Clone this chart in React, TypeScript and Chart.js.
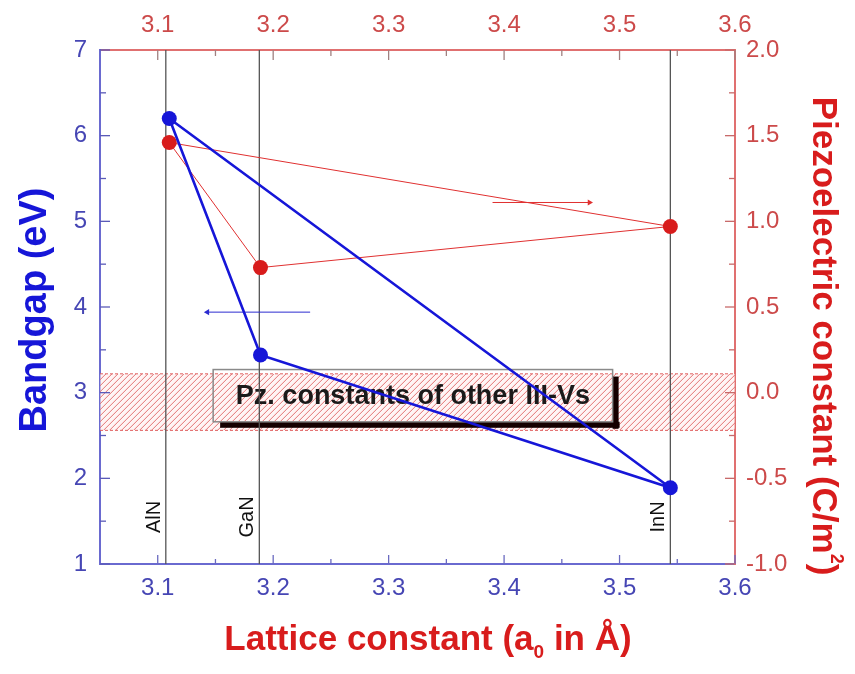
import React, { useEffect, useRef } from "react";
import { Chart, registerables } from "chart.js";

Chart.register(...registerables);

// ---------- data ----------
const compounds = ["AlN", "GaN", "InN"];
const latticeConstants = [3.11, 3.189, 3.544];
const bandgapValues = [6.2, 3.44, 1.89];
const piezoValues = [1.46, 0.73, 0.97];
const triangleOrder = [0, 1, 2, 0];
const markerLines = [3.107, 3.188, 3.544];
const compoundLabelY = 1.55;

const xTickValues = [3.1, 3.2, 3.3, 3.4, 3.5, 3.6];
const xMinorValues = [3.15, 3.25, 3.35, 3.45, 3.55];
const bandgapTicks = [1, 2, 3, 4, 5, 6, 7];
const bandgapMinor = [1.5, 2.5, 3.5, 4.5, 5.5, 6.5];
const piezoTicks = [-1.0, -0.5, 0.0, 0.5, 1.0, 1.5, 2.0];
const piezoMinor = [-0.75, -0.25, 0.25, 0.75, 1.25, 1.75];

const otherIIIVRange = [-0.22, 0.11];
const bandgapArrowX = [3.232, 3.143];
const bandgapArrowY = [3.94, 3.94];
const piezoArrowX = [3.39, 3.474];
const piezoArrowY = [1.11, 1.11];
const noteText = "Pz. constants of other III-Vs";
const noteBoxX = [3.148, 3.494];
const noteBoxY = [3.27, 2.66];

// ---------- styles ----------
const BLUE = "#1616d8";
const RED = "#d81c1c";
const BLUE_TXT = "#4646b4";
const RED_TXT = "#cc4a4a";
const FONT = '"Liberation Sans", Arial, Helvetica, sans-serif';

const pts = (xs: number[], ys: number[], order: number[]) =>
  order.map((i) => ({ x: xs[i], y: ys[i] }));

const decorPlugin = {
  id: "decor",
  beforeDatasetsDraw(chart: any) {
    const { ctx, chartArea: ca, scales } = chart;
    const x = scales.x;
    const y = scales.y;
    const y2 = scales.y2;
    // hatched band
    const top = y2.getPixelForValue(otherIIIVRange[1]);
    const bot = y2.getPixelForValue(otherIIIVRange[0]);
    ctx.save();
    ctx.beginPath();
    ctx.rect(ca.left, top, ca.right - ca.left, bot - top);
    ctx.clip();
    ctx.fillStyle = "rgba(255,238,238,0.6)";
    ctx.fillRect(ca.left, top, ca.right - ca.left, bot - top);
    ctx.strokeStyle = "#e27272";
    ctx.lineWidth = 1;
    const h = bot - top;
    for (let px = ca.left - h; px < ca.right + h; px += 6) {
      ctx.beginPath();
      ctx.moveTo(px, bot);
      ctx.lineTo(px + h, top);
      ctx.stroke();
    }
    ctx.restore();
    ctx.save();
    ctx.strokeStyle = "#e06060";
    ctx.setLineDash([3, 2]);
    ctx.lineWidth = 1;
    ctx.beginPath();
    ctx.moveTo(ca.left, top);
    ctx.lineTo(ca.right, top);
    ctx.moveTo(ca.left, bot);
    ctx.lineTo(ca.right, bot);
    ctx.stroke();
    ctx.restore();

    // note box
    const bx0 = x.getPixelForValue(noteBoxX[0]);
    const bx1 = x.getPixelForValue(noteBoxX[1]);
    const by0 = y.getPixelForValue(noteBoxY[0]);
    const by1 = y.getPixelForValue(noteBoxY[1]);
    ctx.save();
    ctx.fillStyle = "#140000";
    ctx.fillRect(bx1, by0 + 7, 6, by1 - by0);
    ctx.fillRect(bx0 + 7, by1, bx1 - bx0, 6);
    ctx.strokeStyle = "#8a8a8a";
    ctx.lineWidth = 1.5;
    ctx.strokeRect(bx0, by0, bx1 - bx0, by1 - by0);
    ctx.fillStyle = "#1a1a1a";
    ctx.font = `bold 27px ${FONT}`;
    ctx.textAlign = "center";
    ctx.textBaseline = "middle";
    ctx.fillText(noteText, (bx0 + bx1) / 2, (by0 + by1) / 2 + 1);
    ctx.restore();

    // compound labels
    ctx.save();
    ctx.fillStyle = "#111";
    ctx.font = `20px ${FONT}`;
    markerLines.forEach((m, i) => {
      const px = x.getPixelForValue(m);
      const py = y.getPixelForValue(compoundLabelY);
      ctx.save();
      ctx.translate(px - 6, py);
      ctx.rotate(-Math.PI / 2);
      ctx.textAlign = "center";
      ctx.textBaseline = "alphabetic";
      ctx.fillText(compounds[i], 0, 0);
      ctx.restore();
    });
    ctx.restore();
  },
  afterDraw(chart: any) {
    const { ctx, chartArea: ca, scales } = chart;
    // inward ticks
    const tick = (
      scale: any,
      vals: number[],
      len: number,
      color: string,
      side: string
    ) => {
      ctx.save();
      ctx.strokeStyle = color;
      ctx.lineWidth = 1.3;
      vals.forEach((v) => {
        const p = scale.getPixelForValue(v);
        ctx.beginPath();
        if (side === "bottom") {
          ctx.moveTo(p, ca.bottom);
          ctx.lineTo(p, ca.bottom - len);
        } else if (side === "top") {
          ctx.moveTo(p, ca.top);
          ctx.lineTo(p, ca.top + len);
        } else if (side === "left") {
          ctx.moveTo(ca.left, p);
          ctx.lineTo(ca.left + len, p);
        } else {
          ctx.moveTo(ca.right, p);
          ctx.lineTo(ca.right - len, p);
        }
        ctx.stroke();
      });
      ctx.restore();
    };
    tick(scales.x, xTickValues, 9, "#6a6ac0", "bottom");
    tick(scales.x, xMinorValues, 5, "#6a6ac0", "bottom");
    tick(scales.x2, xTickValues, 10, "#a08080", "top");
    tick(scales.x2, xMinorValues, 6, "#a08080", "top");
    tick(scales.y, bandgapTicks, 10, "#5a5ab8", "left");
    tick(scales.y, bandgapMinor, 6, "#5a5ab8", "left");
    tick(scales.y2, piezoTicks, 10, "#c86a6a", "right");
    tick(scales.y2, piezoMinor, 6, "#c86a6a", "right");

    // axis titles
    const drawPieces = (
      pieces: { t: string; size: number; dy: number }[],
      cx: number,
      cy: number,
      rot: number,
      color: string
    ) => {
      ctx.save();
      ctx.fillStyle = color;
      ctx.translate(cx, cy);
      ctx.rotate(rot);
      ctx.textBaseline = "middle";
      ctx.textAlign = "left";
      let total = 0;
      pieces.forEach((p) => {
        ctx.font = `bold ${p.size}px ${FONT}`;
        total += ctx.measureText(p.t).width;
      });
      let cur = -total / 2;
      pieces.forEach((p) => {
        ctx.font = `bold ${p.size}px ${FONT}`;
        ctx.fillText(p.t, cur, p.dy);
        cur += ctx.measureText(p.t).width;
      });
      ctx.restore();
    };
    drawPieces([{ t: "Bandgap (eV)", size: 38, dy: 0 }], 36, 310, -Math.PI / 2, BLUE);
    drawPieces(
      [
        { t: "Lattice constant (a", size: 35, dy: 0 },
        { t: "0", size: 19, dy: 13 },
        { t: " in Å)", size: 35, dy: 0 },
      ],
      428,
      640,
      0,
      RED
    );
    drawPieces(
      [
        { t: "Piezoelectric constant (C/m", size: 35, dy: 0 },
        { t: "2", size: 18, dy: -13 },
        { t: ")", size: 35, dy: 0 },
      ],
      823,
      336,
      Math.PI / 2,
      RED
    );
  },
};

export default function App() {
  const ref = useRef<HTMLCanvasElement | null>(null);
  useEffect(() => {
    if (!ref.current) return;
    const fixTicks = (vals: number[]) => (scale: any) => {
      scale.ticks = vals.map((v) => ({ value: v }));
    };
    const chart = new Chart(ref.current, {
      type: "scatter",
      data: {
        datasets: [
          {
            label: "Bandgap",
            data: pts(latticeConstants, bandgapValues, triangleOrder),
            showLine: true,
            borderColor: BLUE,
            backgroundColor: BLUE,
            borderWidth: 2.6,
            pointRadius: [7.5, 7.5, 7.5, 0],
            pointBorderWidth: 0,
            xAxisID: "x",
            yAxisID: "y",
            order: 1,
          },
          {
            label: "Piezoelectric",
            data: pts(latticeConstants, piezoValues, triangleOrder),
            showLine: true,
            borderColor: "#e03030",
            backgroundColor: RED,
            borderWidth: 1,
            pointRadius: [7.5, 7.5, 7.5, 0],
            pointBorderWidth: 0,
            xAxisID: "x",
            yAxisID: "y2",
            order: 2,
          },
          ...markerLines.map((m) => ({
            label: "marker",
            data: [
              { x: m, y: bandgapTicks[0] },
              { x: m, y: bandgapTicks[bandgapTicks.length - 1] },
            ],
            showLine: true,
            borderColor: "#555",
            borderWidth: 1.3,
            pointRadius: 0,
            xAxisID: "x",
            yAxisID: "y",
            order: 5,
          })),
          {
            label: "arrowBlue",
            data: bandgapArrowX.map((v, i) => ({ x: v, y: bandgapArrowY[i] })),
            showLine: true,
            borderColor: "#2b2bd0",
            backgroundColor: "#2b2bd0",
            borderWidth: 1,
            pointStyle: "triangle",
            rotation: -90,
            pointRadius: [0, 3.5],
            pointBorderWidth: 0,
            xAxisID: "x",
            yAxisID: "y",
            order: 3,
          },
          {
            label: "arrowRed",
            data: piezoArrowX.map((v, i) => ({ x: v, y: piezoArrowY[i] })),
            showLine: true,
            borderColor: "#e03030",
            backgroundColor: "#e03030",
            borderWidth: 1,
            pointStyle: "triangle",
            rotation: 90,
            pointRadius: [0, 3.5],
            pointBorderWidth: 0,
            xAxisID: "x",
            yAxisID: "y2",
            order: 3,
          },
        ],
      },
      options: {
        responsive: false,
        animation: false,
        events: [],
        layout: { padding: 0 },
        plugins: {
          legend: { display: false },
          tooltip: { enabled: false },
          title: { display: false },
        },
        scales: {
          x: {
            type: "linear",
            position: "bottom",
            min: 3.05,
            max: 3.6,
            grid: { display: false, drawTicks: false },
            border: { display: true, color: "#6a6ad0", width: 2 },
            afterBuildTicks: fixTicks(xTickValues),
            afterFit: (s: any) => {
              s.height = 110;
            },
            ticks: {
              padding: 10,
              color: BLUE_TXT,
              font: { size: 24, family: FONT },
              callback: (v: any) => Number(v).toFixed(1),
              maxRotation: 0,
              autoSkip: false,
            },
          },
          x2: {
            type: "linear",
            position: "top",
            min: 3.05,
            max: 3.6,
            grid: { display: false, drawTicks: false },
            border: { display: true, color: "#e07070", width: 2 },
            afterBuildTicks: fixTicks(xTickValues),
            afterFit: (s: any) => {
              s.height = 50;
            },
            ticks: {
              padding: 10,
              color: RED_TXT,
              font: { size: 24, family: FONT },
              callback: (v: any) => Number(v).toFixed(1),
              maxRotation: 0,
              autoSkip: false,
            },
          },
          y: {
            type: "linear",
            position: "left",
            min: 1,
            max: 7,
            grid: { display: false, drawTicks: false },
            border: { display: true, color: "#6a6ad0", width: 2 },
            afterBuildTicks: fixTicks(bandgapTicks),
            afterFit: (s: any) => {
              s.width = 100;
            },
            ticks: {
              padding: 13,
              color: BLUE_TXT,
              font: { size: 24, family: FONT },
              callback: (v: any) => String(v),
              autoSkip: false,
            },
          },
          y2: {
            type: "linear",
            position: "right",
            min: -1,
            max: 2,
            grid: { display: false, drawTicks: false },
            border: { display: true, color: "#e07070", width: 2 },
            afterBuildTicks: fixTicks(piezoTicks),
            afterFit: (s: any) => {
              s.width = 120;
            },
            ticks: {
              padding: 11,
              color: RED_TXT,
              font: { size: 24, family: FONT },
              callback: (v: any) => Number(v).toFixed(1),
              autoSkip: false,
            },
          },
        },
      },
      plugins: [decorPlugin],
    });
    return () => chart.destroy();
  }, []);
  return (
    <div style={{ position: "absolute", left: 0, top: 0, width: 855, height: 674, background: "#fff" }}>
      <canvas ref={ref} width={855} height={674} style={{ display: "block" }} />
    </div>
  );
}
